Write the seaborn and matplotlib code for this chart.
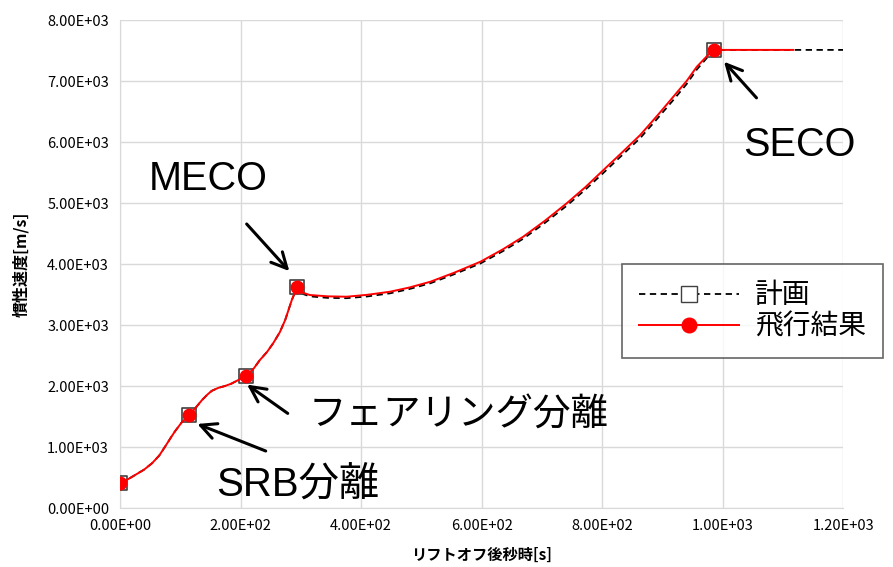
import pandas as pd
import matplotlib
matplotlib.use("Agg")
import matplotlib.pyplot as plt
import seaborn as sns

# flight result
flight_t = [0, 12, 25, 40, 53, 65, 75, 84, 91, 102, 115, 126, 136, 145, 152, 163, 174, 185, 194, 209,
            222, 232, 244, 254, 265, 274, 285, 294, 300, 315, 345, 376, 410, 448, 480, 515, 555,
            598, 635, 669, 705, 741, 772, 802, 833, 863, 892, 918, 940, 957, 972, 984, 1117]
flight_v = [410, 465, 541, 630, 733, 860, 1010, 1150, 1255, 1400, 1525, 1650, 1770, 1860, 1920, 1970,
            2000, 2040, 2087, 2160, 2290, 2426, 2560, 2700, 2880, 3082, 3410, 3625, 3540, 3492, 3470,
            3464, 3495, 3546, 3615, 3710, 3860, 4038, 4240, 4448, 4710, 4995, 5260, 5541, 5830, 6115,
            6440, 6743, 7000, 7235, 7390, 7510, 7510]

# plan
plan_t = [0, 12, 25, 40, 53, 65, 75, 84, 91, 102, 115, 126, 136, 145, 152, 163, 174, 185, 194, 209,
          222, 232, 244, 254, 265, 274, 285, 294, 300, 315, 345, 376, 410, 448, 480, 515, 555,
          598, 635, 669, 705, 741, 772, 802, 833, 863, 892, 918, 940, 957, 972, 984, 1200]
plan_v = [410, 465, 541, 630, 733, 860, 1010, 1150, 1255, 1400, 1525, 1650, 1770, 1860, 1920, 1970,
          2000, 2040, 2087, 2160, 2290, 2426, 2560, 2700, 2880, 3082, 3410, 3625, 3520, 3470, 3445,
          3440, 3468, 3520, 3590, 3685, 3835, 4010, 4210, 4415, 4675, 4955, 5220, 5495, 5785, 6065,
          6390, 6690, 6950, 7190, 7360, 7510, 7510]

# events (SRB separation, fairing separation, MECO, SECO)
event_t = [0, 115, 209, 294, 985]
event_v = [410, 1525, 2160, 3625, 7510]

plt.rcParams['font.family'] = ['Noto Sans CJK JP', 'DejaVu Sans']
latin = ['Liberation Sans', 'Noto Sans CJK JP']

fig = plt.figure(figsize=(8.93, 5.67), dpi=100)
ax = fig.add_axes([0.1344, 0.104, 0.8100, 0.8607])

plan = pd.DataFrame({"t": plan_t, "v": plan_v})
flight = pd.DataFrame({"t": flight_t, "v": flight_v})
ev = pd.DataFrame({"t": event_t, "v": event_v})

sns.lineplot(data=plan, x="t", y="v", ax=ax, color="black", linestyle=(0, (3.5, 2.5)),
             linewidth=1.3, sort=False, zorder=3)
sns.scatterplot(data=ev, x="t", y="v", ax=ax, marker="s", s=110, facecolor="white",
                edgecolor="#404040", linewidth=1.2, zorder=4)
sns.lineplot(data=flight, x="t", y="v", ax=ax, color="red", linewidth=1.4, sort=False, zorder=5)
sns.scatterplot(data=ev, x="t", y="v", ax=ax, marker="o", s=100, color="red",
                edgecolor="red", linewidth=0, zorder=6)

ax.set_xlim(0, 1200)
ax.set_ylim(0, 8000)
ax.set_xticks(range(0, 1201, 200))
ax.set_yticks(range(0, 8001, 1000))
ax.xaxis.set_major_formatter(matplotlib.ticker.FuncFormatter(lambda v, p: f"{v:.2E}"))
ax.yaxis.set_major_formatter(matplotlib.ticker.FuncFormatter(lambda v, p: f"{v:.2E}"))
ax.tick_params(length=0, labelsize=10.5, pad=8)
ax.grid(True, color="#d9d9d9", linewidth=1)
ax.set_axisbelow(True)
for s in ["top", "right"]:
    ax.spines[s].set_visible(False)
for s in ["left", "bottom"]:
    ax.spines[s].set_color("#d9d9d9")
ax.set_xlabel("リフトオフ後秒時[s]", fontsize=11, fontweight="bold", labelpad=10)
ax.set_ylabel("慣性速度[m/s]", fontsize=11.5, fontweight="bold", labelpad=13)

arrow = dict(arrowstyle="->", color="black", lw=2.2, mutation_scale=28)
ax.text(146, 5400, "MECO", fontsize=28.5, family=latin, ha="center", va="center")
ax.annotate("", xy=(284, 3850), xytext=(207, 4690), arrowprops=arrow)
ax.text(1127, 5950, "SECO", fontsize=28.5, family=latin, ha="center", va="center")
ax.annotate("", xy=(999, 7350), xytext=(1059, 6690), arrowprops=arrow)
ax.text(313, 1525, "フェアリング分離", fontsize=27, ha="left", va="center")
ax.annotate("", xy=(207, 2050), xytext=(282, 1525), arrowprops=arrow)
ax.text(160, 370, "SRB分離", fontsize=29, family=latin, ha="left", va="center")
ax.annotate("", xy=(124, 1395), xytext=(246, 918), arrowprops=arrow)

h1 = matplotlib.lines.Line2D([], [], color="black", linestyle=(0, (3.5, 2.5)), linewidth=1.3,
                             marker="s", markersize=11, markerfacecolor="white",
                             markeredgecolor="#404040")
h2 = matplotlib.lines.Line2D([], [], color="red", linewidth=1.4, marker="o", markersize=10.5,
                             markerfacecolor="red", markeredgecolor="red")
leg = fig.legend([h1, h2], ["計画", "飛行結果"], loc="upper left", bbox_to_anchor=(0.6965, 0.535),
                 borderaxespad=0, fontsize=20, frameon=True, fancybox=False, shadow=False,
                 handlelength=3.6, borderpad=0.6, labelspacing=0.05, handletextpad=0.6)
leg.get_frame().set_edgecolor("#404040")
leg.get_frame().set_linewidth(1.2)

fig.savefig("out.png", dpi=100)
